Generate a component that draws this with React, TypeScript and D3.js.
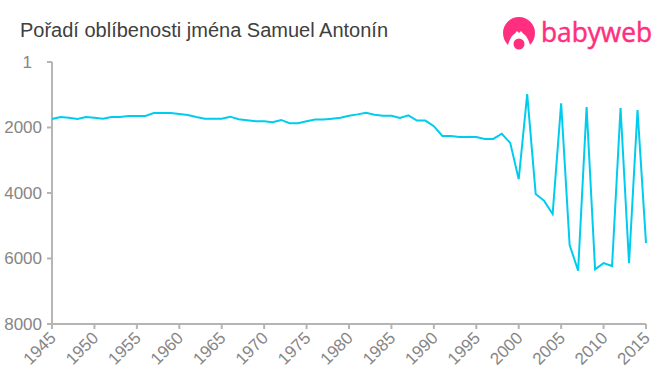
import React from "react";
import * as d3 from "d3";

const title = "Pořadí oblíbenosti jména Samuel Antonín";
const brand = "babyweb";
const startYear = 1945;
const ranks = [
  1740, 1680, 1700, 1740, 1680, 1700, 1730, 1680, 1680, 1650, 1650, 1650, 1560, 1560, 1560, 1590, 1620, 1680,
  1730, 1730, 1730, 1670, 1750, 1780, 1810, 1810, 1840, 1770, 1870, 1870, 1810, 1760, 1760, 1730, 1700, 1640,
  1600, 1550, 1610, 1640, 1640, 1710, 1630, 1790, 1790, 1960, 2260, 2260, 2290, 2290, 2290, 2350, 2350, 2190,
  2470, 3580, 980, 4030, 4240, 4640, 1260, 5590, 6370, 1375, 6330, 6140, 6230, 1405, 6140, 1465, 5530,
];
const yTicks = [1, 2000, 4000, 6000, 8000];
const xTicks = [1945, 1950, 1955, 1960, 1965, 1970, 1975, 1980, 1985, 1990, 1995, 2000, 2005, 2010, 2015];

const FONT = "'Liberation Sans', Arial, sans-serif";

export default function App() {
  const x = d3.scaleLinear().domain([1945, 2015]).range([52, 646]);
  const y = d3.scaleLinear().domain([1, 8000]).range([62, 324]);
  const line = d3
    .line<number>()
    .x((_, i) => x(startYear + i))
    .y((d) => y(d));
  const axis = "#b5b5b5";
  const tickText = "#868686";
  return (
    <svg
      width={660}
      height={375}
      style={{ position: "absolute", left: 0, top: 0, background: "#fff", fontFamily: FONT }}
    >
      <text x={20} y={37} fontSize={20} fill="#404040">
        {title}
      </text>
      <g fill="#ff2e7e">
        <path d="M519 17 a16 16 0 0 1 16 16 c0 5 -2 9 -5 12 c-1 -4 -3 -8 -5 -10 c-2 -1 -3 -3 -4 -4 l-2 2 l-2 -2 c-1 1 -2 3 -4 4 c-2 2 -4 6 -5 10 c-3 -3 -5 -7 -5 -12 a16 16 0 0 1 16 -16 z" />
        <circle cx={519} cy={44} r={5.5} />
        <text
          x={541}
          y={42}
          fontSize={27}
          stroke="#ff2e7e"
          strokeWidth={0.5}
          fontFamily="'Open Sans', sans-serif"
          textLength={111}
          lengthAdjust="spacingAndGlyphs"
        >
          {brand}
        </text>
      </g>
      <g stroke={axis} strokeWidth={2} fill="none">
        <path d={`M${x(1945)} ${y(1)}V${y(8000)}H${x(2015)}`} />
        {yTicks.map((t) => (
          <line key={t} x1={x(1945) - 5} x2={x(1945)} y1={y(t)} y2={y(t)} />
        ))}
        {xTicks.map((t) => (
          <line key={t} x1={x(t)} x2={x(t)} y1={y(8000)} y2={y(8000) + 5} />
        ))}
      </g>
      <g fill={tickText} fontSize={17}>
        {yTicks.map((t) => (
          <text key={t} x={t === 1 ? 32 : 42} y={y(t) + 6} textAnchor="end">
            {t}
          </text>
        ))}
        {xTicks.map((t) => (
          <text key={t} textAnchor="end" transform={`translate(${x(t) + 5},${y(8000) + 15}) rotate(-45)`}>
            {t}
          </text>
        ))}
      </g>
      <path d={line(ranks) ?? ""} fill="none" stroke="#00ccee" strokeWidth={2} strokeLinejoin="miter" />
    </svg>
  );
}
